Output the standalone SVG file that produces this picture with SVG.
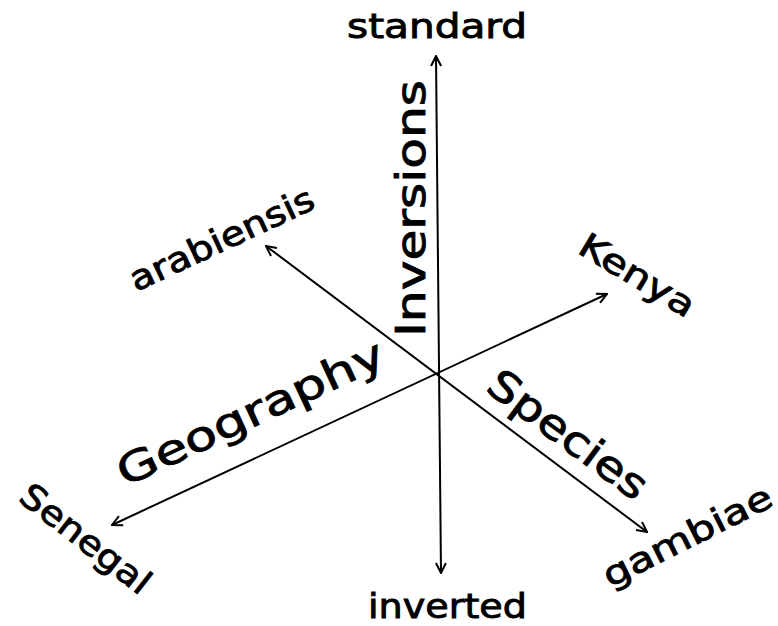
<svg xmlns="http://www.w3.org/2000/svg" width="778" height="626" viewBox="0 0 778 626">
<style>
.ax{stroke:#000;stroke-width:2;fill:none;marker-start:url(#ah);marker-end:url(#ah)}
.lb{font-family:"DejaVu Sans","Liberation Sans",sans-serif;fill:#000;stroke:#000;stroke-width:0.9}
.end{font-size:34px}
.main{font-size:41px}
</style>
<defs>
<marker id="ah" viewBox="0 0 12 12" refX="11" refY="6" markerWidth="12" markerHeight="12" markerUnits="userSpaceOnUse" orient="auto-start-reverse">
<path d="M1,1 L11,6 L1,11" fill="none" stroke="#000" stroke-width="2"/>
</marker>
</defs>
<rect width="778" height="626" fill="#fff"/>
<g id="connectors">
<line class="ax" x1="441" y1="573" x2="436" y2="56"/>
<line class="ax" x1="647" y1="532" x2="266" y2="246"/>
<line class="ax" x1="112" y1="525" x2="607" y2="294"/>
</g>
<g id="standard"><text class="lb end" x="347" y="38" textLength="180" lengthAdjust="spacingAndGlyphs">standard</text></g>
<g id="inverted"><text class="lb end" x="368" y="618" textLength="159" lengthAdjust="spacingAndGlyphs">inverted</text></g>
<g id="arabiensis"><text class="lb end" transform="translate(136,292) rotate(-25)" textLength="200" lengthAdjust="spacingAndGlyphs">arabiensis</text></g>
<g id="kenya"><text class="lb end" transform="translate(576,252) rotate(31)" textLength="129" lengthAdjust="spacingAndGlyphs">Kenya</text></g>
<g id="senegal"><text class="lb end" transform="translate(17,500) rotate(38)" textLength="156" lengthAdjust="spacingAndGlyphs">Senegal</text></g>
<g id="gambiae"><text class="lb end" transform="translate(610,588) rotate(-26.7)" textLength="185" lengthAdjust="spacingAndGlyphs">gambiae</text></g>
<g id="inversions"><text class="lb main" transform="translate(425,337) rotate(-90)" textLength="257" lengthAdjust="spacingAndGlyphs">Inversions</text></g>
<g id="geography"><text class="lb main" transform="translate(125,487) rotate(-25)" textLength="290" lengthAdjust="spacingAndGlyphs">Geography</text></g>
<g id="species"><text class="lb main" transform="translate(484,390) rotate(36.5)" textLength="188" lengthAdjust="spacingAndGlyphs">Species</text></g>
</svg>
